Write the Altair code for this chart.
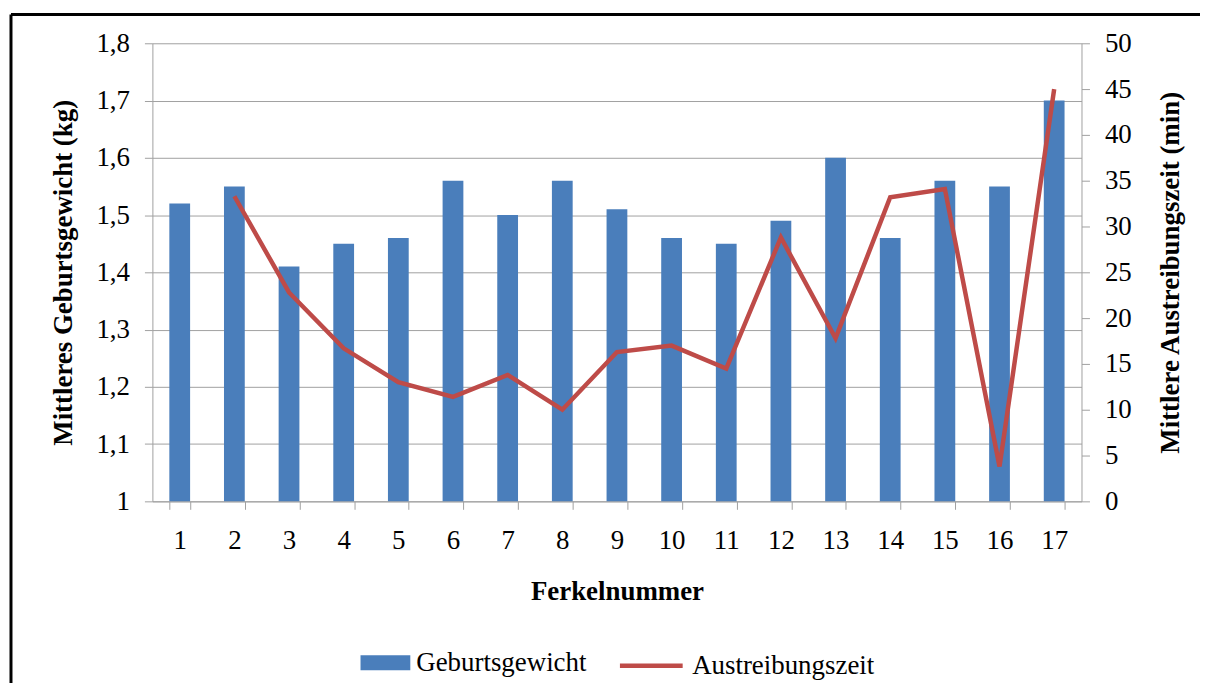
import altair as alt
import pandas as pd

ferkel = [str(i) for i in range(1, 18)]
gewicht = [1.52, 1.55, 1.41, 1.45, 1.46, 1.56, 1.50, 1.56, 1.51, 1.46, 1.45, 1.49, 1.60, 1.46, 1.56, 1.55, 1.70]
zeit = [None, 33.3, 22.8, 16.7, 13.0, 11.4, 13.8, 10.0, 16.3, 17.0, 14.5, 28.8, 17.8, 33.2, 34.1, 3.8, 45.0]
left_ticks = [1.0, 1.1, 1.2, 1.3, 1.4, 1.5, 1.6, 1.7, 1.8]
right_ticks = [0, 5, 10, 15, 20, 25, 30, 35, 40, 45, 50]

df = pd.DataFrame({"Ferkel": ferkel, "Gewicht": gewicht, "Zeit": zeit,
                   "s1": "Geburtsgewicht", "s2": "Austreibungszeit"})

FONT = "Liberation Serif"
GRID = "#a0a0a0"
BLUE = "#4a7ebb"
RED = "#be4b48"

x_enc = alt.X("Ferkel:O", sort=ferkel,
              scale=alt.Scale(paddingInner=0.62, paddingOuter=0.31),
              axis=alt.Axis(title="Ferkelnummer", labelAngle=0, tickBand="extent",
                            tickSize=8, labelPadding=18, titlePadding=26,
                            domainColor=GRID, tickColor=GRID,
                            labelFontSize=27, titleFontSize=27))

bars = alt.Chart(df).mark_bar().encode(
    x=x_enc,
    y=alt.Y("Gewicht:Q", scale=alt.Scale(domain=[1.0, 1.8], zero=False, nice=False),
            axis=alt.Axis(title="Mittleres Geburtsgewicht (kg)", values=left_ticks,
                          labelExpr="datum.value == 1 ? '1' : replace(format(datum.value, '.1f'), '.', ',')",
                          grid=True, gridColor=GRID, tickSize=8, labelPadding=15,
                          titlePadding=18, domainColor=GRID, tickColor=GRID,
                          labelFontSize=27, titleFontSize=27)),
    y2=alt.datum(1.0),
    fill=alt.Fill("s1:N", scale=alt.Scale(domain=["Geburtsgewicht"], range=[BLUE]),
                  legend=alt.Legend(title=None, orient="none", legendX=209, legendY=597,
                                    symbolType="M-1,-0.3H1V0.3H-1Z", symbolSize=2500,
                                    symbolStrokeWidth=0, labelFontSize=27, labelOffset=6,
                                    labelLimit=400, padding=0)),
)

line = alt.Chart(df).mark_line(strokeWidth=4.5).encode(
    x=alt.X("Ferkel:O", sort=ferkel),
    y=alt.Y("Zeit:Q", scale=alt.Scale(domain=[0, 50], nice=False),
            axis=alt.Axis(title="Mittlere Austreibungszeit (min)", orient="right",
                          values=right_ticks, grid=False, tickSize=8, labelPadding=15,
                          titlePadding=26, titleAngle=270, titleBaseline="top",
                          domainColor=GRID, tickColor=GRID,
                          labelFontSize=27, titleFontSize=27)),
    stroke=alt.Stroke("s2:N", scale=alt.Scale(domain=["Austreibungszeit"], range=[RED]),
                      legend=alt.Legend(title=None, orient="none", legendX=467, legendY=591,
                                        symbolType="stroke", symbolSize=3969,
                                        symbolStrokeWidth=4.5, labelFontSize=27, labelOffset=7,
                                        labelLimit=400, padding=0)),
)

frame_df = pd.DataFrame({"k": [0]})
frame_top = alt.Chart(frame_df).mark_rule(color="black", strokeWidth=3).encode(
    x=alt.value(-142), x2=alt.value(1200), y=alt.value(-29))
frame_left = alt.Chart(frame_df).mark_rule(color="black", strokeWidth=3).encode(
    x=alt.value(-142), y=alt.value(-29), y2=alt.value(700))

chart = alt.layer(bars, line, frame_top, frame_left).resolve_scale(
    y="independent", fill="independent", stroke="independent"
).properties(
    width=933, height=460,
    autosize=alt.AutoSizeParams(type="none"),
    padding={"left": 145, "top": 34, "right": 119, "bottom": 181},
).configure(
    font=FONT,
).configure_axis(
    labelFont=FONT, titleFont=FONT, labelColor="black", titleColor="black",
    titleFontWeight="bold",
).configure_legend(
    labelFont=FONT, labelColor="black",
).configure_view(stroke=None)

chart.save("out.html", embed_options={"renderer": "svg", "actions": False})
